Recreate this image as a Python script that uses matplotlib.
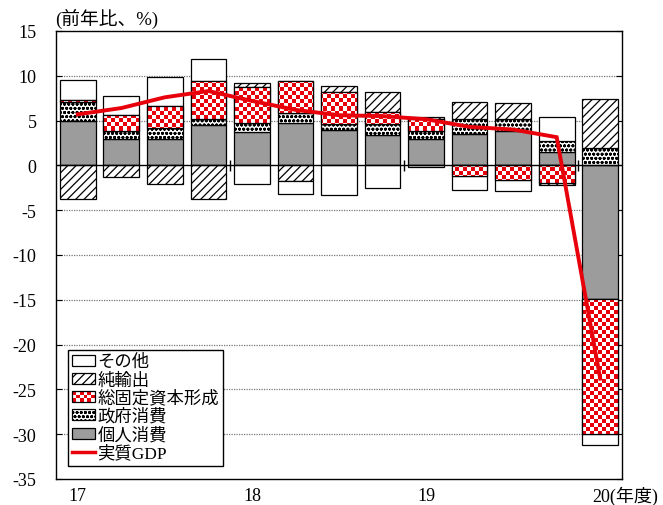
import numpy as np
import matplotlib
matplotlib.use("Agg")
import matplotlib.pyplot as plt
from matplotlib.patches import Rectangle, Patch
from matplotlib.lines import Line2D
from matplotlib.legend_handler import HandlerBase

plt.rcParams['font.family'] = ['Liberation Serif', 'Noto Sans CJK JP']
plt.rcParams['hatch.linewidth'] = 0.9

# ---- data (contributions, % y/y) ----
quarters = ['17Q1', '17Q2', '17Q3', '17Q4', '18Q1', '18Q2', '18Q3', '18Q4',
            '19Q1', '19Q2', '19Q3', '19Q4', '20Q1']
personal = [4.9, 2.9, 3.0, 4.5, 3.75, 4.7, 4.0, 3.4, 3.0, 3.5, 3.85, 1.5, -14.9]
government = [2.2, 0.9, 1.2, 0.7, 0.95, 1.2, 0.6, 1.2, 0.8, 1.65, 1.3, 1.25, 1.9]
gfcf = [0.2, 1.8, 2.45, 4.2, 4.0, 3.5, 3.6, 1.4, 1.4, -1.2, -1.6, -1.95, -15.1]
net_exports = [-3.8, -1.3, -2.1, -3.8, 0.45, -1.7, 0.7, 2.15, 0.2, 1.9, 1.8, -0.25, 5.5]
other = [2.2, 2.2, 3.2, 2.5, -2.1, -1.45, -3.3, -2.5, -0.2, -1.5, -1.25, 2.6, -1.15]
real_gdp = [5.7, 6.4, 7.6, 8.3, 7.2, 6.2, 5.6, 5.5, 5.15, 4.3, 4.0, 3.15, -23.8]

year_labels = ['17', '18', '19', '20(年度)']
year_positions = [0, 4, 8, 12]
year_breaks = [3.5, 7.5, 11.5]

legend_names = ['その他', '純輸出', '総固定資本形成', '政府消費', '個人消費', '実質GDP']

RED = '#e8000b'
GRAY = '#9c9c9c'
DOTS = 'oooo'
DIAG = '////'

fig = plt.figure(figsize=(6.63, 5.06), dpi=100)
ax = fig.add_axes([56/663, 1-480/506, (622-56)/663, (480-32)/506])

x = np.arange(len(quarters))
W = 0.82
XMIN, XMAX, YMIN, YMAX = -0.5, 12.5, -35, 15

# gridlines
for v in [10, 5, -5, -10, -15, -20, -25, -30]:
    ax.axhline(v, color='#777777', lw=0.9, ls=(0, (1, 1)), zorder=0)

components = [
    ('personal', personal, dict(facecolor=GRAY, edgecolor='black', lw=0.9)),
    ('gov', government, dict(facecolor='white', edgecolor='black', hatch=DOTS, lw=0.9)),
    ('gfcf', gfcf, dict(facecolor='white', edgecolor='black', lw=0.9)),
    ('net', net_exports, dict(facecolor='white', edgecolor='black', hatch=DIAG, lw=0.9)),
    ('other', other, dict(facecolor='white', edgecolor='black', lw=0.9)),
]

# checker image for gfcf
ncx, ncy = 142, 112
ii, jj = np.meshgrid(np.arange(ncx), np.arange(ncy))
checker = ((ii + jj) % 2 == 0)
img = np.ones((ncy, ncx, 3))
img[checker] = np.array(matplotlib.colors.to_rgb(RED))

pos_base = np.zeros(len(x))
neg_base = np.zeros(len(x))
for name, vals, style in components:
    vals = np.array(vals, dtype=float)
    bottoms = np.where(vals >= 0, pos_base, neg_base)
    bars = ax.bar(x, vals, W, bottom=bottoms, zorder=2, **style)
    if name == 'gfcf':
        for b in bars:
            im = ax.imshow(img, extent=(XMIN, XMAX, YMIN, YMAX), aspect='auto',
                           interpolation='nearest', zorder=2.5)
            im.set_clip_path(b)
            ax.add_patch(Rectangle(b.get_xy(), b.get_width(), b.get_height(),
                                   facecolor='none', edgecolor='black', lw=0.9, zorder=2.6))
    pos_base = pos_base + np.where(vals >= 0, vals, 0)
    neg_base = neg_base + np.where(vals < 0, vals, 0)

ax.axhline(0, color='black', lw=1.0, zorder=3)
ax.vlines(year_breaks, -0.6, 0.6, color='black', lw=1.0, zorder=3)

ax.plot(x, real_gdp, color=RED, lw=2.8, zorder=5, solid_joinstyle='miter')

ax.set_xlim(XMIN, XMAX)
ax.set_ylim(YMIN, YMAX)
ax.set_yticks(np.arange(-35, 16, 5))
ax.set_yticklabels([str(v) for v in range(-35, 16, 5)], fontsize=13)
ax.tick_params(axis='y', direction='in', length=4, right=True, pad=14)
ax.set_xticks([])
for sp in ax.spines.values():
    sp.set_linewidth(1.0)

tr = ax.get_xaxis_transform()
for lab, pos in zip(year_labels[:-1], year_positions[:-1]):
    ax.text(pos, -0.037, lab, transform=tr, ha='center', va='center', fontsize=13)
ax.text(year_positions[-1] - 0.19, -0.037, year_labels[-1], transform=tr,
        ha='left', va='center', fontsize=13)

fig.text(55/663, 1-19/506, '(前年比、%)', ha='left', va='center', fontsize=13.5)


class CheckerHandler(HandlerBase):
    def create_artists(self, legend, orig_handle, xdescent, ydescent, width, height, fontsize, trans):
        arts = []
        ny = 3
        s = height / ny
        nx = int(round(width / s))
        s_w = width / nx
        for i in range(nx):
            for j in range(ny):
                c = RED if (i + j) % 2 == 0 else 'white'
                arts.append(Rectangle((-xdescent + i*s_w, -ydescent + j*s), s_w, s,
                                      facecolor=c, edgecolor='none', transform=trans))
        arts.append(Rectangle((-xdescent, -ydescent), width, height, facecolor='none',
                              edgecolor='black', lw=0.9, transform=trans))
        return arts


class CheckerKey:
    pass


h_other = Patch(facecolor='white', edgecolor='black', lw=0.9)
h_net = Patch(facecolor='white', edgecolor='black', hatch=DIAG, lw=0.9)
h_gfcf = CheckerKey()
h_gov = Patch(facecolor='white', edgecolor='black', hatch=DOTS, lw=0.9)
h_pers = Patch(facecolor=GRAY, edgecolor='black', lw=0.9)
h_gdp = Line2D([], [], color=RED, lw=2.5)

leg = ax.legend([h_other, h_net, h_gfcf, h_gov, h_pers, h_gdp], legend_names,
                handler_map={CheckerKey: CheckerHandler()},
                loc='lower left', bbox_to_anchor=(12/566, 13/448), borderaxespad=0,
                fontsize=12.5, fancybox=False, framealpha=1, edgecolor='black',
                handlelength=1.3, handleheight=0.6, handletextpad=0.15,
                labelspacing=0.1, borderpad=0.25)
leg.get_frame().set_linewidth(1.0)
leg.set_zorder(10)

fig.savefig('out.png', dpi=100)
